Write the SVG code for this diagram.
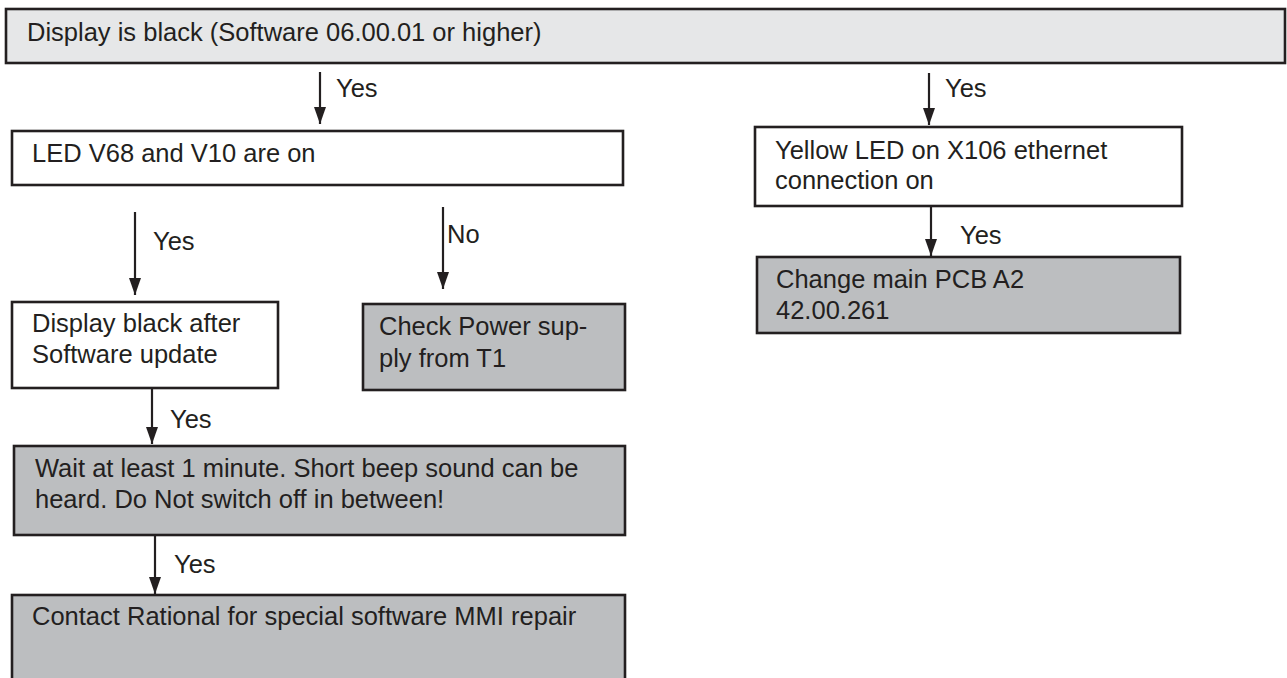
<svg xmlns="http://www.w3.org/2000/svg" width="1287" height="678" viewBox="0 0 1287 678">
<style>
.box{stroke:#231f20;stroke-width:2.6}
.w{fill:#ffffff}
.lg{fill:#e6e7e8}
.g{fill:#bcbec0}
text{font-family:"Liberation Sans",Arial,sans-serif;font-size:25.5px;fill:#231f20}
.c{stroke:#231f20;stroke-width:2.2;fill:none}
</style>
<defs>
<marker id="ah" viewBox="0 0 17 12" refX="17" refY="6" markerWidth="17" markerHeight="12" markerUnits="userSpaceOnUse" orient="auto">
<path d="M0,0 L17,6 L0,12 Z" fill="#231f20"/>
</marker>
</defs>

<g id="connectors">
<line class="c" x1="320" y1="72" x2="320" y2="124" marker-end="url(#ah)"/>
<text x="336" y="97">Yes</text>
<line class="c" x1="929" y1="73" x2="929" y2="125" marker-end="url(#ah)"/>
<text x="945" y="97">Yes</text>
<line class="c" x1="931" y1="207" x2="931" y2="256" marker-end="url(#ah)"/>
<text x="960" y="244">Yes</text>
<line class="c" x1="135" y1="212" x2="135" y2="295" marker-end="url(#ah)"/>
<text x="153" y="250">Yes</text>
<line class="c" x1="443" y1="207" x2="443" y2="289" marker-end="url(#ah)"/>
<text x="447" y="243">No</text>
<line class="c" x1="152" y1="389" x2="152" y2="444" marker-end="url(#ah)"/>
<text x="170" y="428">Yes</text>
<line class="c" x1="155" y1="536" x2="155" y2="594" marker-end="url(#ah)"/>
<text x="174" y="573">Yes</text>
</g>

<g id="n-top">
<rect class="box lg" x="6" y="9" width="1279" height="54"/>
<text x="27" y="41">Display is black (Software 06.00.01 or higher)</text>
</g>

<g id="n-led">
<rect class="box w" x="12" y="131" width="611" height="54"/>
<text x="32" y="162">LED V68 and V10 are on</text>
</g>

<g id="n-yellow">
<rect class="box w" x="755" y="127" width="427" height="79"/>
<text x="775" y="159">Yellow LED on X106 ethernet</text>
<text x="775" y="189">connection on</text>
</g>

<g id="n-change">
<rect class="box g" x="757" y="257" width="423" height="76"/>
<text x="776" y="288">Change main PCB A2</text>
<text x="776" y="319">42.00.261</text>
</g>

<g id="n-display">
<rect class="box w" x="12" y="302" width="266" height="86"/>
<text x="32" y="332">Display black after</text>
<text x="32" y="363">Software update</text>
</g>

<g id="n-check">
<rect class="box g" x="363" y="304" width="262" height="86"/>
<text x="379" y="335">Check Power sup-</text>
<text x="379" y="367">ply from T1</text>
</g>

<g id="n-wait">
<rect class="box g" x="14" y="446" width="611" height="89"/>
<text x="35" y="477">Wait at least 1 minute. Short beep sound can be</text>
<text x="35" y="508">heard. Do Not switch off in between!</text>
</g>

<g id="n-contact">
<rect class="box g" x="12" y="595" width="613" height="90"/>
<text x="32" y="625">Contact Rational for special software MMI repair</text>
</g>
</svg>
